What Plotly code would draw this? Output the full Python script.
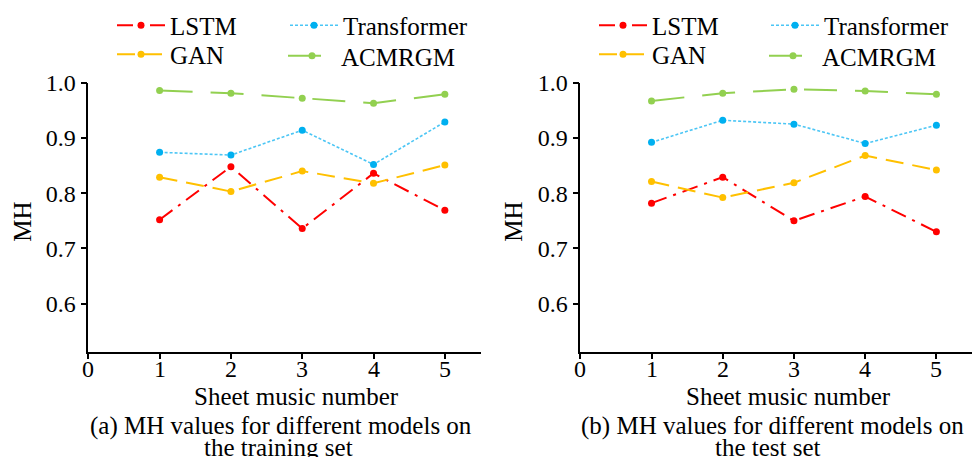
import plotly.graph_objects as go

W, H = 978, 457

x_vals = [1, 2, 3, 4, 5]
x_ticks = [0, 1, 2, 3, 4, 5]
y_ticks = [0.6, 0.7, 0.8, 0.9, 1.0]
y_ticktext = ["0.6", "0.7", "0.8", "0.9", "1.0"]

models = ["LSTM", "GAN", "Transformer", "ACMRGM"]

train_lstm = [0.752, 0.848, 0.736, 0.836, 0.769]
train_gan = [0.829, 0.803, 0.840, 0.818, 0.851]
train_transformer = [0.874, 0.869, 0.914, 0.852, 0.929]
train_acmrgm = [0.986, 0.981, 0.972, 0.963, 0.979]

test_lstm = [0.782, 0.829, 0.750, 0.794, 0.730]
test_gan = [0.821, 0.792, 0.819, 0.868, 0.842]
test_transformer = [0.892, 0.932, 0.925, 0.890, 0.923]
test_acmrgm = [0.967, 0.981, 0.988, 0.985, 0.979]

x_title = "Sheet music number"
y_title = "MH"
caption_a = ["(a) MH values for different models on", "the training set"]
caption_b = ["(b) MH values for different models on", "the test set"]

FONT = "Liberation Serif"

styles = {
    "LSTM": dict(line=dict(color="#FF0000", width=2, dash="16px,7px,3px,7px"),
                 marker=dict(color="#FF0000", size=7)),
    "GAN": dict(line=dict(color="#FFC000", width=2, dash="18px,9px"),
                marker=dict(color="#FFC000", size=7)),
    "Transformer": dict(line=dict(color="#4CC6F5", width=1.6, dash="3px,2px"),
                        marker=dict(color="#00B0F0", size=7)),
    "ACMRGM": dict(line=dict(color="#92D050", width=2, dash="33px,18px"),
                   marker=dict(color="#92D050", size=7)),
}

train = {"LSTM": train_lstm, "GAN": train_gan, "Transformer": train_transformer, "ACMRGM": train_acmrgm}
test = {"LSTM": test_lstm, "GAN": test_gan, "Transformer": test_transformer, "ACMRGM": test_acmrgm}

fig = go.Figure()

legend_ids = {
    ("a", "LSTM"): "legend", ("a", "GAN"): "legend2",
    ("a", "Transformer"): "legend3", ("a", "ACMRGM"): "legend4",
    ("b", "LSTM"): "legend5", ("b", "GAN"): "legend6",
    ("b", "Transformer"): "legend7", ("b", "ACMRGM"): "legend8",
}

for panel, data, xa, ya in [("a", train, "x", "y"), ("b", test, "x2", "y2")]:
    for m in models:
        fig.add_trace(go.Scatter(
            x=x_vals, y=data[m], mode="lines+markers", name=m,
            xaxis=xa, yaxis=ya, legend=legend_ids[(panel, m)],
            line=styles[m]["line"], marker=styles[m]["marker"],
        ))

legend_pos = {
    "legend": (112, 25.5), "legend2": (112, 54.5),
    "legend3": (285, 25.5), "legend4": (283, 56),
    "legend5": (594, 25.5), "legend6": (594, 54.5),
    "legend7": (766, 25.5), "legend8": (764, 56),
}
legend_layout = {}
for lid, (px, py) in legend_pos.items():
    legend_layout[lid] = dict(
        x=px / W, y=1 - py / H, xanchor="left", yanchor="middle",
        bgcolor="rgba(0,0,0,0)", borderwidth=0,
        font=dict(family=FONT, size=25, color="black"),
        itemwidth=48, tracegroupgap=0,
    )

axis_common = dict(showline=True, linecolor="black", linewidth=1.5, ticks="outside",
                   tickcolor="black", tickwidth=1.5, showgrid=False, zeroline=False,
                   automargin=False,
                   tickfont=dict(family=FONT, size=24, color="black"))

xdom_a = [88.3 / W, 480.5 / W]
xdom_b = [580.3 / W, 972 / W]
ydom = [1 - 352.3 / H, 1 - 82.7 / H]

fig.update_layout(
    width=W, height=H,
    margin=dict(l=0, r=0, t=0, b=0, autoexpand=False),
    paper_bgcolor="white", plot_bgcolor="white",
    font=dict(family=FONT, color="black"),
    showlegend=True,
    xaxis=dict(domain=xdom_a, range=[0, 5.5], tickvals=x_ticks, anchor="y", ticklen=5,
               showticklabels=False, **axis_common),
    yaxis=dict(domain=ydom, range=[0.512, 1.0], tickvals=y_ticks, ticktext=y_ticktext, anchor="x", ticklen=6,
               **axis_common),
    xaxis2=dict(domain=xdom_b, range=[0, 5.5], tickvals=x_ticks, anchor="y2", ticklen=5,
                showticklabels=False, **axis_common),
    yaxis2=dict(domain=ydom, range=[0.512, 1.0], tickvals=y_ticks, ticktext=y_ticktext, anchor="x2", ticklen=6,
                **axis_common),
    **legend_layout,
)

def ann(text, px, py, size, angle=0):
    fig.add_annotation(text=text, x=px / W, y=1 - py / H, xref="paper", yref="paper",
                       xanchor="center", yanchor="middle", showarrow=False, textangle=angle,
                       font=dict(family=FONT, size=size, color="black"))

# x tick labels placed through the x axes' own scale
for xref in ["x", "x2"]:
    for v in x_ticks:
        fig.add_annotation(text=str(v), x=v, xref=xref, y=1 - 369 / H, yref="paper",
                           xanchor="center", yanchor="middle", showarrow=False,
                           font=dict(family=FONT, size=24, color="black"))

ann(y_title, 21.7, 222, 25, -90)
ann(y_title, 512.7, 222, 25, -90)
ann(x_title, 296.7, 396, 25)
ann(x_title, 788, 396, 25)
ann(caption_a[0], 281, 426, 25)
ann(caption_a[1], 278, 447, 25)
ann(caption_b[0], 772, 426, 25)
ann(caption_b[1], 768, 447, 25)

fig.write_html("out.html")
